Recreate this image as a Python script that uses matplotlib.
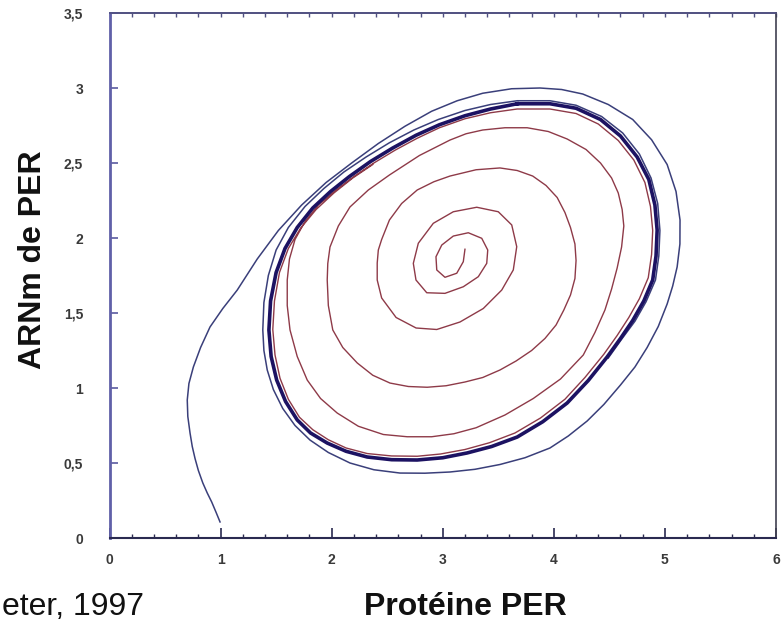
import matplotlib
matplotlib.use("Agg")
import matplotlib.pyplot as plt
from matplotlib.ticker import MultipleLocator

plt.rcParams['font.family'] = ['Liberation Sans', 'DejaVu Sans']

# ---------------- data ----------------
x_ticks = [0, 1, 2, 3, 4, 5, 6]
x_tick_labels = ['0', '1', '2', '3', '4', '5', '6']
y_ticks = [0, 0.5, 1, 1.5, 2, 2.5, 3, 3.5]
y_tick_labels = ['0', '0,5', '1', '1,5', '2', '2,5', '3', '3,5']

# limit cycle (thick dark curve)
limit_x = [3.67, 3.965, 4.20, 4.42, 4.60, 4.75, 4.855, 4.91, 4.93, 4.92, 4.89, 4.81, 4.71,
           4.60, 4.48, 4.31, 4.12, 3.90, 3.67, 3.44, 3.22, 3.00, 2.77, 2.54, 2.32, 2.13,
           1.96, 1.81, 1.69, 1.585, 1.505, 1.455, 1.435, 1.45, 1.50, 1.58, 1.69, 1.83,
           1.99, 2.16, 2.35, 2.55, 2.76, 2.97, 3.20, 3.43, 3.67]
limit_y = [2.895, 2.895, 2.865, 2.79, 2.68, 2.54, 2.39, 2.22, 2.053, 1.88, 1.72, 1.58, 1.45,
           1.33, 1.207, 1.05, 0.90, 0.775, 0.673, 0.61, 0.567, 0.535, 0.52, 0.522, 0.54, 0.578,
           0.633, 0.70, 0.787, 0.91, 1.053, 1.21, 1.387, 1.58, 1.77, 1.93, 2.07, 2.20,
           2.31, 2.41, 2.51, 2.60, 2.685, 2.755, 2.815, 2.86, 2.895]

# trajectory starting inside (red spiral)
red_x = [3.200, 3.185, 3.126, 3.020, 2.946, 2.939, 2.991, 3.095, 3.230, 3.351, 3.405, 3.396,
         3.320, 3.185, 3.020, 2.856, 2.759, 2.735, 2.780, 2.915, 3.095, 3.306, 3.500, 3.621,
         3.666, 3.635, 3.531, 3.365, 3.155, 2.946, 2.760, 2.580, 2.450, 2.410, 2.410,
         2.42, 2.45, 2.52, 2.63, 2.77, 2.92, 3.065, 3.30, 3.515, 3.67, 3.81, 3.93, 4.03,
         4.10, 4.15, 4.19, 4.20, 4.19, 4.15, 4.09, 4.02, 3.92, 3.80, 3.66, 3.515, 3.36,
         3.20, 3.03, 2.86, 2.69, 2.525, 2.37, 2.23, 2.10, 2.01, 1.97, 1.96,
         1.965, 1.985, 2.06, 2.165, 2.33, 2.52, 2.79, 3.065, 3.21, 3.36, 3.56, 3.76, 3.95,
         4.12, 4.29, 4.42, 4.52, 4.58, 4.615, 4.63, 4.61, 4.57, 4.52, 4.46, 4.37, 4.265,
         4.06, 3.815, 3.56, 3.30, 3.10, 2.90, 2.68, 2.465, 2.24, 2.05, 1.90, 1.78, 1.69,
         1.625, 1.60, 1.60,
         1.62, 1.67, 1.76, 1.88, 2.03, 2.20, 2.38, 2.57, 2.77, 2.97, 3.20, 3.43, 3.67, 3.965,
         4.20, 4.40, 4.58, 4.72, 4.82, 4.87, 4.89, 4.88, 4.85, 4.77, 4.675, 4.57, 4.45,
         4.28, 4.10, 3.88, 3.65, 3.42, 3.20, 2.98, 2.77, 2.54, 2.32, 2.13, 1.97, 1.83,
         1.71, 1.61, 1.535, 1.49, 1.47, 1.485, 1.53, 1.61, 1.72, 1.86, 2.02, 2.19, 2.37]
red_y = [1.925, 1.842, 1.765, 1.738, 1.787, 1.875, 1.953, 2.013, 2.035, 1.998, 1.920, 1.831,
         1.742, 1.675, 1.631, 1.635, 1.720, 1.831, 1.965, 2.098, 2.175, 2.205, 2.175, 2.087,
         1.942, 1.787, 1.653, 1.530, 1.440, 1.390, 1.400, 1.470, 1.600, 1.720, 1.833,
         1.92, 1.99, 2.12, 2.23, 2.32, 2.375, 2.413, 2.455, 2.467, 2.45, 2.413, 2.35, 2.27,
         2.17, 2.07, 1.96, 1.85, 1.73, 1.62, 1.52, 1.42, 1.33, 1.25, 1.18, 1.12, 1.07,
         1.04, 1.015, 1.005, 1.01, 1.033, 1.085, 1.167, 1.27, 1.387, 1.55, 1.72,
         1.83, 1.94, 2.08, 2.207, 2.32, 2.42, 2.55, 2.653, 2.695, 2.72, 2.735, 2.735, 2.71,
         2.66, 2.59, 2.50, 2.40, 2.30, 2.19, 2.08, 1.94, 1.80, 1.66, 1.52, 1.37, 1.22,
         1.06, 0.93, 0.82, 0.735, 0.695, 0.675, 0.675, 0.69, 0.745, 0.833, 0.93, 1.053, 1.21,
         1.387, 1.55, 1.72,
         1.86, 1.99, 2.11, 2.22, 2.315, 2.41, 2.50, 2.585, 2.665, 2.735, 2.795, 2.835, 2.86, 2.86,
         2.83, 2.76, 2.65, 2.52, 2.37, 2.21, 2.05, 1.89, 1.735, 1.595, 1.47, 1.35, 1.225,
         1.07, 0.925, 0.80, 0.70, 0.635, 0.59, 0.56, 0.545, 0.547, 0.563, 0.60, 0.655, 0.722,
         0.805, 0.925, 1.065, 1.22, 1.39, 1.58, 1.77, 1.93, 2.065, 2.19, 2.30, 2.40, 2.49]

# trajectory starting outside (blue)
blue_x = [0.995, 0.96, 0.92, 0.88, 0.84, 0.80, 0.77, 0.745, 0.725, 0.705, 0.70, 0.715,
          0.755, 0.82, 0.905, 1.02, 1.15, 1.33, 1.52, 1.73, 1.95, 2.18, 2.42, 2.66, 2.90,
          3.13, 3.36, 3.62, 3.875, 4.07, 4.26, 4.49, 4.71, 4.88, 5.02, 5.10, 5.136, 5.135,
          5.11, 5.07, 5.02, 4.94, 4.84, 4.73, 4.60, 4.45, 4.30, 4.13, 3.965, 3.74, 3.515,
          3.29, 3.065, 2.84, 2.615, 2.38, 2.165, 1.97, 1.805, 1.67, 1.56, 1.475, 1.42, 1.39,
          1.38, 1.39, 1.43, 1.50, 1.61, 1.76, 1.93, 2.11, 2.31, 2.52, 2.74, 2.96, 3.20,
          3.43, 3.67, 3.965, 4.20, 4.43, 4.62, 4.77, 4.875, 4.935, 4.955, 4.945, 4.915, 4.83,
          4.73, 4.61, 4.49]
blue_y = [0.107, 0.17, 0.24, 0.30, 0.367, 0.45, 0.53, 0.61, 0.70, 0.81, 0.92, 1.03,
          1.14, 1.27, 1.407, 1.53, 1.653, 1.86, 2.05, 2.22, 2.37, 2.50, 2.63, 2.745, 2.845,
          2.915, 2.965, 2.995, 3.0, 2.99, 2.96, 2.89, 2.79, 2.655, 2.49, 2.31, 2.12, 1.96,
          1.807, 1.68, 1.56, 1.41, 1.27, 1.14, 1.02, 0.89, 0.78, 0.68, 0.60, 0.535, 0.49,
          0.458, 0.44, 0.432, 0.433, 0.455, 0.50, 0.57, 0.653, 0.75, 0.863, 0.99, 1.12, 1.25,
          1.387, 1.57, 1.75, 1.92, 2.07, 2.21, 2.33, 2.44, 2.54, 2.635, 2.72, 2.79, 2.85,
          2.89, 2.915, 2.915, 2.885, 2.81, 2.70, 2.56, 2.40, 2.23, 2.05, 1.88, 1.72, 1.575,
          1.445, 1.325, 1.20]

# ---------------- figure ----------------
W, H = 784, 621
fig = plt.figure(figsize=(W / 100, H / 100), dpi=100)
ax = fig.add_axes([109.5 / W, 1 - 538 / H, (776 - 109.5) / W, (538 - 13) / H])

ax.plot(red_x, red_y, color='#8e3a48', lw=1.0, zorder=2, solid_joinstyle='round')
ax.plot(blue_x, blue_y, color='#3a3f7a', lw=1.1, zorder=3, solid_joinstyle='round')
ax.plot(limit_x, limit_y, color='#1c1262', lw=2.6, zorder=4, solid_joinstyle='round')

ax.set_xlim(0, 6)
ax.set_ylim(0, 3.5)
ax.set_xticks(x_ticks)
ax.set_xticklabels(x_tick_labels)
ax.set_yticks(y_ticks)
ax.set_yticklabels(y_tick_labels)
ax.xaxis.set_minor_locator(MultipleLocator(0.2))

ax.tick_params(axis='x', which='major', direction='in', length=7, width=1.2,
               color='#2a2a50', pad=11, labelsize=10, labelcolor='#3a3a3a')
ax.tick_params(axis='x', which='minor', direction='in', length=3, width=1.0,
               color='#2a2a50')
ax.tick_params(axis='y', which='major', direction='in', length=6, width=1.2,
               color='#5a5aa0', pad=19, labelsize=10, labelcolor='#3a3a3a')
for lab in ax.get_xticklabels() + ax.get_yticklabels():
    lab.set_fontweight('bold')

top = ax.secondary_xaxis('top')
top.xaxis.set_major_locator(MultipleLocator(0.2))
top.tick_params(direction='in', length=3, width=1.0, color='#505080', labeltop=False)
top.spines['top'].set_color('#505080')
top.spines['top'].set_linewidth(1.2)

ax.spines['left'].set_color('#6060a8')
ax.spines['left'].set_linewidth(2.0)
ax.spines['bottom'].set_color('#2a2a50')
ax.spines['bottom'].set_linewidth(1.5)
ax.spines['top'].set_color('#505080')
ax.spines['top'].set_linewidth(1.2)
ax.spines['right'].set_color('#404050')
ax.spines['right'].set_linewidth(1.2)

fig.text(465 / W, 1 - 615 / H, 'Protéine PER', ha='center', va='baseline',
         fontsize=23, fontweight='bold', color='#111111')
fig.text(33 / W, 1 - 260 / H, 'ARNm de PER', ha='center', va='center',
         rotation=90, fontsize=23, fontweight='bold', color='#111111')
fig.text(2 / W, 1 - 615 / H, 'eter, 1997', ha='left', va='baseline',
         fontsize=23, color='#111111')

fig.savefig('out.png', dpi=100)
